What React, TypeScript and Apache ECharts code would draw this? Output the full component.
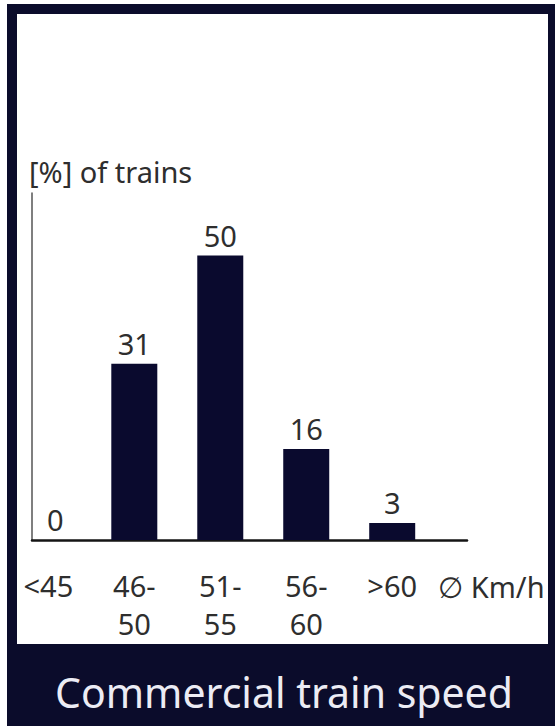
import React, { useEffect, useRef } from "react";
import * as echarts from "echarts";

const categories = ["<45", "46-\n50", "51-\n55", "56-\n60", ">60"];
const shares = [0, 31, 50, 16, 3];
const yAxisTitle = "[%] of trains";
const xAxisUnit = "∅ Km/h";
const chartTitle = "Commercial train speed";

const NAVY = "#0b0c2b";
const BAR = "#0a0a2e";
const TEXT = "#2e2e2e";
const FONT = "'Noto Sans', 'DejaVu Sans', sans-serif";

export default function App() {
  const ref = useRef<HTMLDivElement>(null);
  useEffect(() => {
    document.body.style.margin = "0";
    const chart = echarts.init(ref.current!, null, { renderer: "svg" });
    chart.setOption({
      animation: false,
      backgroundColor: "#ffffff",
      textStyle: { fontFamily: FONT },
      grid: { left: 32, right: 88, top: 193, bottom: 186 },
      xAxis: {
        type: "value",
        min: -0.19,
        max: 4.87,
        splitLine: { show: false },
        axisTick: { show: false },
        axisLine: { show: true, onZero: true, lineStyle: { color: "#141414", width: 2.5 } },
        axisLabel: {
          customValues: categories.map((_, i) => i),
          formatter: (v: number) => categories[Math.round(v)] ?? "",
          color: TEXT,
          fontSize: 29,
          lineHeight: 37.5,
          margin: 27,
          fontFamily: FONT,
        },
      },
      yAxis: {
        type: "value",
        min: 0,
        max: 61,
        splitLine: { show: false },
        axisTick: { show: false },
        axisLabel: { show: false },
        axisLine: { show: true, onZero: false, lineStyle: { color: "#555555", width: 1.5 } },
      },
      series: [
        {
          type: "bar",
          barWidth: 46,
          data: shares.map((v, i) =>
            v === 0 ? { value: [i, v], label: { offset: [7, 0] } } : { value: [i, v] }
          ),
          itemStyle: { color: BAR },
          label: {
            show: true,
            position: "top",
            distance: 6,
            color: TEXT,
            fontSize: 29,
            fontFamily: FONT,
            formatter: (p: any) => String(p.value[1]),
          },
        },
      ],
      graphic: [
        {
          type: "rect",
          z: -20,
          silent: true,
          shape: { x: 7, y: 4, width: 548, height: 722 },
          style: { fill: NAVY },
        },
        {
          type: "rect",
          z: -10,
          silent: true,
          shape: { x: 17, y: 14, width: 531, height: 630 },
          style: { fill: "#ffffff" },
        },
        {
          type: "text",
          x: 29,
          y: 171,
          style: {
            text: yAxisTitle,
            fill: TEXT,
            font: `29px ${FONT}`,
            verticalAlign: "middle",
            align: "left",
          },
        },
        {
          type: "text",
          x: 438,
          y: 586,
          style: {
            text: xAxisUnit,
            fill: TEXT,
            font: `29px ${FONT}`,
            verticalAlign: "middle",
            align: "left",
          },
        },
        {
          type: "text",
          x: 284,
          y: 692,
          style: {
            text: chartTitle,
            fill: "#ececf4",
            font: `41px ${FONT}`,
            verticalAlign: "middle",
            align: "center",
          },
        },
      ],
    });
    return () => chart.dispose();
  }, []);
  return <div ref={ref} style={{ width: 555, height: 726 }} />;
}
